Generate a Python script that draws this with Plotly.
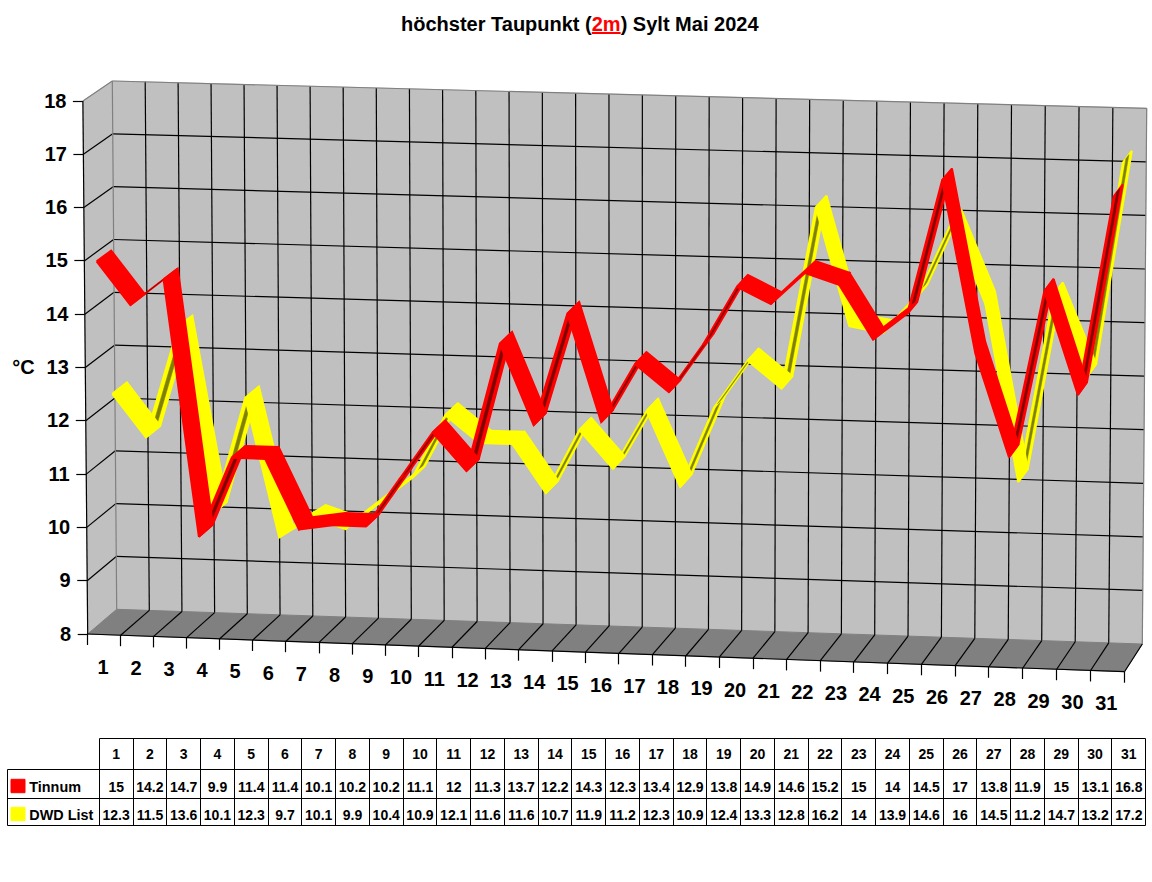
import numpy as np
import plotly.graph_objects as go

# Daily highest dew point values, Sylt, May 2024
days = list(range(1, 32))
tinnum = [15, 14.2, 14.7, 9.9, 11.4, 11.4, 10.1, 10.2, 10.2, 11.1, 12, 11.3, 13.7, 12.2, 14.3, 12.3,
          13.4, 12.9, 13.8, 14.9, 14.6, 15.2, 15, 14, 14.5, 17, 13.8, 11.9, 15, 13.1, 16.8]
dwd_list = [12.3, 11.5, 13.6, 10.1, 12.3, 9.7, 10.1, 9.9, 10.4, 10.9, 12.1, 11.6, 11.6, 10.7, 11.9, 11.2,
            12.3, 10.9, 12.4, 13.3, 12.8, 16.2, 14, 13.9, 14.6, 16, 14.5, 11.2, 14.7, 13.2, 17.2]
temp_ticks = list(range(8, 19))
title_text = 'höchster Taupunkt (<span style="color:#ff0000"><u>2m</u></span>) Sylt Mai 2024'

FONT = "Liberation Sans"

# Box corners in page pixels, indexed [x side][value side][depth side]
BOX = np.array([
    [[(87.7, 634.0), (116.7, 609.3)], [(82.9, 101.0), (112.3, 81.0)]],
    [[(1124.5, 671.7), (1142.3, 644.0)], [(1129.0, 132.0), (1146.7, 108.3)]],
])
N_CAT = 31
T_MIN, T_MAX = 8, 18
# Categories widen slightly towards the right-hand side of the box
GROW = 0.000489


def project(cat, temp, depth):
    """Perspective-style mapping of (category position, degrees, depth 0..1) to the page."""
    u = (cat + GROW * cat * cat) / (N_CAT + GROW * N_CAT * N_CAT)
    v = (temp - T_MIN) / (T_MAX - T_MIN)
    w = depth
    p = 0.0
    for i, a in enumerate((1 - u, u)):
        for j, b in enumerate((1 - v, v)):
            for k, c in enumerate((1 - w, w)):
                p = p + a * b * c * BOX[i, j, k]
    return p


def point_pos(day):
    return 0.37 + (day - 1) * 1.0067


fig = go.Figure()


def polygon(points, color, edge=1.0):
    pts = list(points) + [points[0]]
    fig.add_trace(go.Scatter(x=[p[0] for p in pts], y=[p[1] for p in pts], mode="lines",
                             fill="toself", fillcolor=color, line=dict(color=color, width=edge),
                             hoverinfo="skip", showlegend=False))


def lines(segments, color="#000000", width=1.0):
    xs, ys = [], []
    for a, b in segments:
        xs += [a[0], b[0], None]
        ys += [a[1], b[1], None]
    fig.add_trace(go.Scatter(x=xs, y=ys, mode="lines", line=dict(color=color, width=width),
                             hoverinfo="skip", showlegend=False))


def labels(xs, ys, texts, size, position="middle center", color="#000000"):
    fig.add_trace(go.Scatter(x=xs, y=ys, text=texts, mode="text", textposition=position,
                             textfont=dict(family=FONT, size=size, color=color, weight="bold"),
                             hoverinfo="skip", showlegend=False))


def snap(v):
    return np.floor(v) + 0.5


# Walls and floor
polygon([project(0, T_MIN, 1), project(N_CAT, T_MIN, 1), project(N_CAT, T_MAX, 1), project(0, T_MAX, 1)], "#c0c0c0")
polygon([project(0, T_MIN, 0), project(0, T_MIN, 1), project(0, T_MAX, 1), project(0, T_MAX, 0)], "#c0c0c0")
polygon([project(0, T_MIN, 0), project(N_CAT, T_MIN, 0), project(N_CAT, T_MIN, 1), project(0, T_MIN, 1)], "#808080")

# Grid on the back wall, side wall and floor
grid = []
for t in temp_ticks[1:-1]:
    grid.append((project(0, t, 1), project(N_CAT, t, 1)))
    grid.append((project(0, t, 0), project(0, t, 1)))
for c in range(1, N_CAT):
    grid.append((project(c, T_MIN, 1), project(c, T_MAX, 1)))
for c in range(1, N_CAT + 1):
    grid.append((project(c, T_MIN, 0), project(c, T_MIN, 1)))
lines(grid, width=1.2)

# Grey box edges
lines([(project(0, T_MAX, 0), project(0, T_MAX, 1)),
       (project(0, T_MAX, 1), project(N_CAT, T_MAX, 1)),
       (project(N_CAT, T_MAX, 1), project(N_CAT, T_MIN, 1)),
       (project(0, T_MIN, 1), project(0, T_MAX, 1))], "#808080", 1.2)

# Axis lines and tick marks
axis = [(project(0, T_MIN, 0), project(0, T_MAX, 0)),
        (project(0, T_MIN, 0), project(N_CAT, T_MIN, 0))]
for t in temp_ticks:
    p = project(0, t, 0)
    axis.append(((p[0], snap(p[1])), (p[0] - 10, snap(p[1]))))
for c in range(0, N_CAT + 1):
    p = project(c, T_MIN, 0)
    axis.append(((snap(p[0]), p[1]), (snap(p[0]), p[1] + 11)))
lines(axis, width=1.2)

# Axis labels
ty = [project(0, t, 0) for t in temp_ticks]
labels([p[0] - 16.5 for p in ty], [p[1] + 1.5 for p in ty], [str(t) for t in temp_ticks], 20, "middle left")
dx = [project(d - 0.5, T_MIN, 0) for d in days]
labels([p[0] - 1.2 for p in dx], [p[1] + 34 for p in dx], [str(d) for d in days], 20)
labels([23.5], [368.5], ["°C"], 20)


def ribbon(values, z0, z1, bright, dark):
    """One series as a ribbon between two depths; undersides show the darker colour."""
    under, over = [], []
    for i in range(len(values) - 1):
        a0 = project(point_pos(days[i]), values[i], z0)
        b0 = project(point_pos(days[i]), values[i], z1)
        d0 = project(point_pos(days[i + 1]), values[i + 1], z0)
        s = d0 - a0
        e = b0 - a0
        (under if s[0] * e[1] - s[1] * e[0] > 0 else over).append(i)
    dz = z1 - z0
    for i in under:
        x0, x1 = point_pos(days[i]), point_pos(days[i + 1])
        polygon([project(x0, values[i], z0), project(x0, values[i], z1),
                 project(x1, values[i + 1], z1), project(x1, values[i + 1], z0)], bright, 2)
        polygon([project(x0, values[i], z0 + 0.33 * dz), project(x0, values[i], z1 - 0.33 * dz),
                 project(x1, values[i + 1], z1 - 0.33 * dz), project(x1, values[i + 1], z0 + 0.33 * dz)], dark, 0.5)
    for i in over:
        x0, x1 = point_pos(days[i]), point_pos(days[i + 1])
        polygon([project(x0, values[i], z0), project(x0, values[i], z1),
                 project(x1, values[i + 1], z1), project(x1, values[i + 1], z0)], bright, 2)


ribbon(dwd_list, 0.5, 1.0, "#ffff00", "#808000")
ribbon(tinnum, 0.0, 0.5, "#ff0000", "#800000")

# Data table under the chart
TX0, TX1, TXE = 7.3, 99.3, 1145.7
TY = [738.3, 769.0, 798.3, 825.0]
cw = (TXE - TX1) / N_CAT
rules = [((snap(TX1), snap(TY[0])), (snap(TXE), snap(TY[0]))),
         ((snap(TX0), snap(TY[1])), (snap(TXE), snap(TY[1]))),
         ((snap(TX0), snap(TY[2])), (snap(TXE), snap(TY[2]))),
         ((snap(TX0), snap(TY[3])), (snap(TXE), snap(TY[3]))),
         ((snap(TX0), snap(TY[1])), (snap(TX0), snap(TY[3])))]
for c in range(N_CAT + 1):
    rules.append(((snap(TX1 + c * cw), snap(TY[0])), (snap(TX1 + c * cw), snap(TY[3]))))
lines(rules)
col_x = [TX1 + (d - 0.5) * cw for d in days]
labels(col_x, [755.5] * N_CAT, [str(d) for d in days], 14)
labels(col_x, [788.2] * N_CAT, [str(v) for v in tinnum], 14)
labels(col_x, [816.5] * N_CAT, [str(v) for v in dwd_list], 14)
labels([29.3, 29.3], [788.2, 816.5], ["Tinnum", "DWD List"], 14.4, "middle right")
polygon([(11, 779.3), (25, 779.3), (25, 792.7), (11, 792.7)], "#ff0000")
polygon([(11, 807.3), (25, 807.3), (25, 820.7), (11, 820.7)], "#ffff00")

fig.update_layout(
    width=1152, height=882, margin=dict(l=0, r=0, t=0, b=0),
    paper_bgcolor="#ffffff", plot_bgcolor="#ffffff", showlegend=False,
    xaxis=dict(range=[0, 1152], visible=False, fixedrange=True),
    yaxis=dict(range=[882, 0], visible=False, fixedrange=True),
    annotations=[dict(x=579.5, y=23.5, xref="x", yref="y", text="<b>" + title_text + "</b>", showarrow=False,
                      font=dict(family=FONT, size=20, color="#000000"))],
)
fig.write_html("out.html", config={"displayModeBar": False})
